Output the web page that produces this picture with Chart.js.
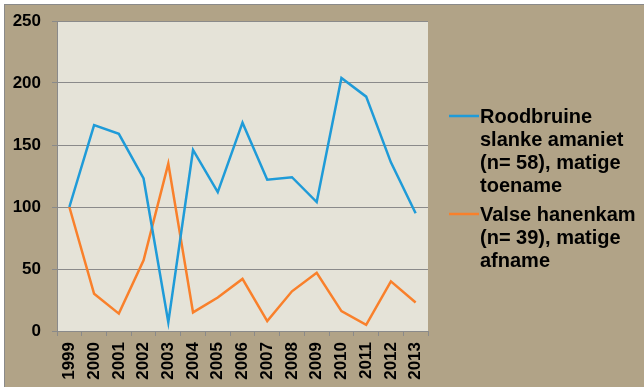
<!DOCTYPE html>
<html>
<head>
<meta charset="utf-8">
<script src="https://cdn.jsdelivr.net/npm/chart.js@4.4.1/dist/chart.umd.min.js"></script>
<style>
    html, body { margin: 0; padding: 0; background: #fff; }
    #wrap {
        position: absolute;
        left: 4px;
        top: 4px;
        width: 640px;
        height: 383px;
        border-left: 1px solid #8a8a8a;
        border-top: 1px solid #8a8a8a;
        background: #b1a387;
    }
</style>
</head>
<body>
<div id="wrap"><canvas id="trendChart" width="640" height="383"></canvas></div>
<script>
const years = ['1999', '2000', '2001', '2002', '2003', '2004', '2005', '2006',
               '2007', '2008', '2009', '2010', '2011', '2012', '2013'];
const roodbruine = [100, 166, 159, 123, 7, 146, 112, 168, 122, 124, 104, 204, 189, 136, 95];
const valseHanenkam = [100, 30, 14, 57, 135, 15, 27, 42, 8, 32, 47, 16, 5, 40, 23];
const legendLines = [
    ['Roodbruine', 'slanke amaniet', '(n= 58), matige', 'toename'],
    ['Valse hanenkam', '(n= 39), matige', 'afname']
];
const lineColors = ['#1f9bd8', '#f9802b'];

// beige fill behind the plot area
const plotBackground = {
    id: 'plotBackground',
    beforeDraw(chart) {
        const { ctx, chartArea } = chart;
        ctx.save();
        ctx.fillStyle = '#e5e3d8';
        ctx.fillRect(chartArea.left, chartArea.top, chartArea.right - chartArea.left, chartArea.bottom - chartArea.top);
        ctx.restore();
    }
};

// multi-line legend on the right
const sideLegend = {
    id: 'sideLegend',
    afterDraw(chart) {
        const ctx = chart.ctx;
        ctx.save();
        ctx.font = 'bold 20px "Liberation Sans", Arial, sans-serif';
        ctx.textBaseline = 'middle';
        ctx.fillStyle = '#000';
        let y = 112;
        chart.data.datasets.forEach((ds, i) => {
            ctx.strokeStyle = ds.borderColor;
            ctx.lineWidth = 2.5;
            ctx.beginPath();
            ctx.moveTo(444, y - 1);
            ctx.lineTo(474, y - 1);
            ctx.stroke();
            legendLines[i].forEach((line, j) => {
                ctx.fillText(line, 475, y + j * 23);
            });
            y += legendLines[i].length * 23 + 6;
        });
        ctx.restore();
    }
};

const tickFont = { family: '"Liberation Sans", Arial, sans-serif', size: 17, weight: 'bold' };

new Chart(document.getElementById('trendChart'), {
    type: 'line',
    data: {
        labels: years,
        datasets: [
            {
                label: legendLines[0].join(' '),
                data: roodbruine,
                borderColor: lineColors[0],
                borderWidth: 2.5,
                pointRadius: 0,
                tension: 0
            },
            {
                label: legendLines[1].join(' '),
                data: valseHanenkam,
                borderColor: lineColors[1],
                borderWidth: 2.5,
                pointRadius: 0,
                tension: 0
            }
        ]
    },
    options: {
        responsive: false,
        animation: false,
        layout: { padding: { top: 16, right: 217, bottom: 0, left: 0 } },
        plugins: {
            legend: { display: false },
            tooltip: { enabled: false }
        },
        scales: {
            x: {
                offset: true,
                afterFit(scale) { scale.height = 57; },
                grid: {
                    offset: true,
                    drawOnChartArea: false,
                    drawTicks: true,
                    tickLength: 5,
                    color: '#8a8a8a'
                },
                border: { color: '#8a8a8a', width: 1 },
                ticks: {
                    color: '#000',
                    font: tickFont,
                    minRotation: 90,
                    maxRotation: 90,
                    autoSkip: false,
                    padding: 6
                }
            },
            y: {
                min: 0,
                max: 250,
                afterFit(scale) {
                    scale.width = 52;
                    // label overhang only, not the horizontal tick padding
                    scale.paddingTop = 10;
                    scale.paddingBottom = 10;
                },
                grid: {
                    color: '#8a8a8a',
                    tickLength: 5
                },
                border: { color: '#8a8a8a', width: 1 },
                ticks: {
                    stepSize: 50,
                    color: '#000',
                    font: tickFont,
                    padding: 11
                }
            }
        }
    },
    plugins: [plotBackground, sideLegend]
});
</script>
</body>
</html>
